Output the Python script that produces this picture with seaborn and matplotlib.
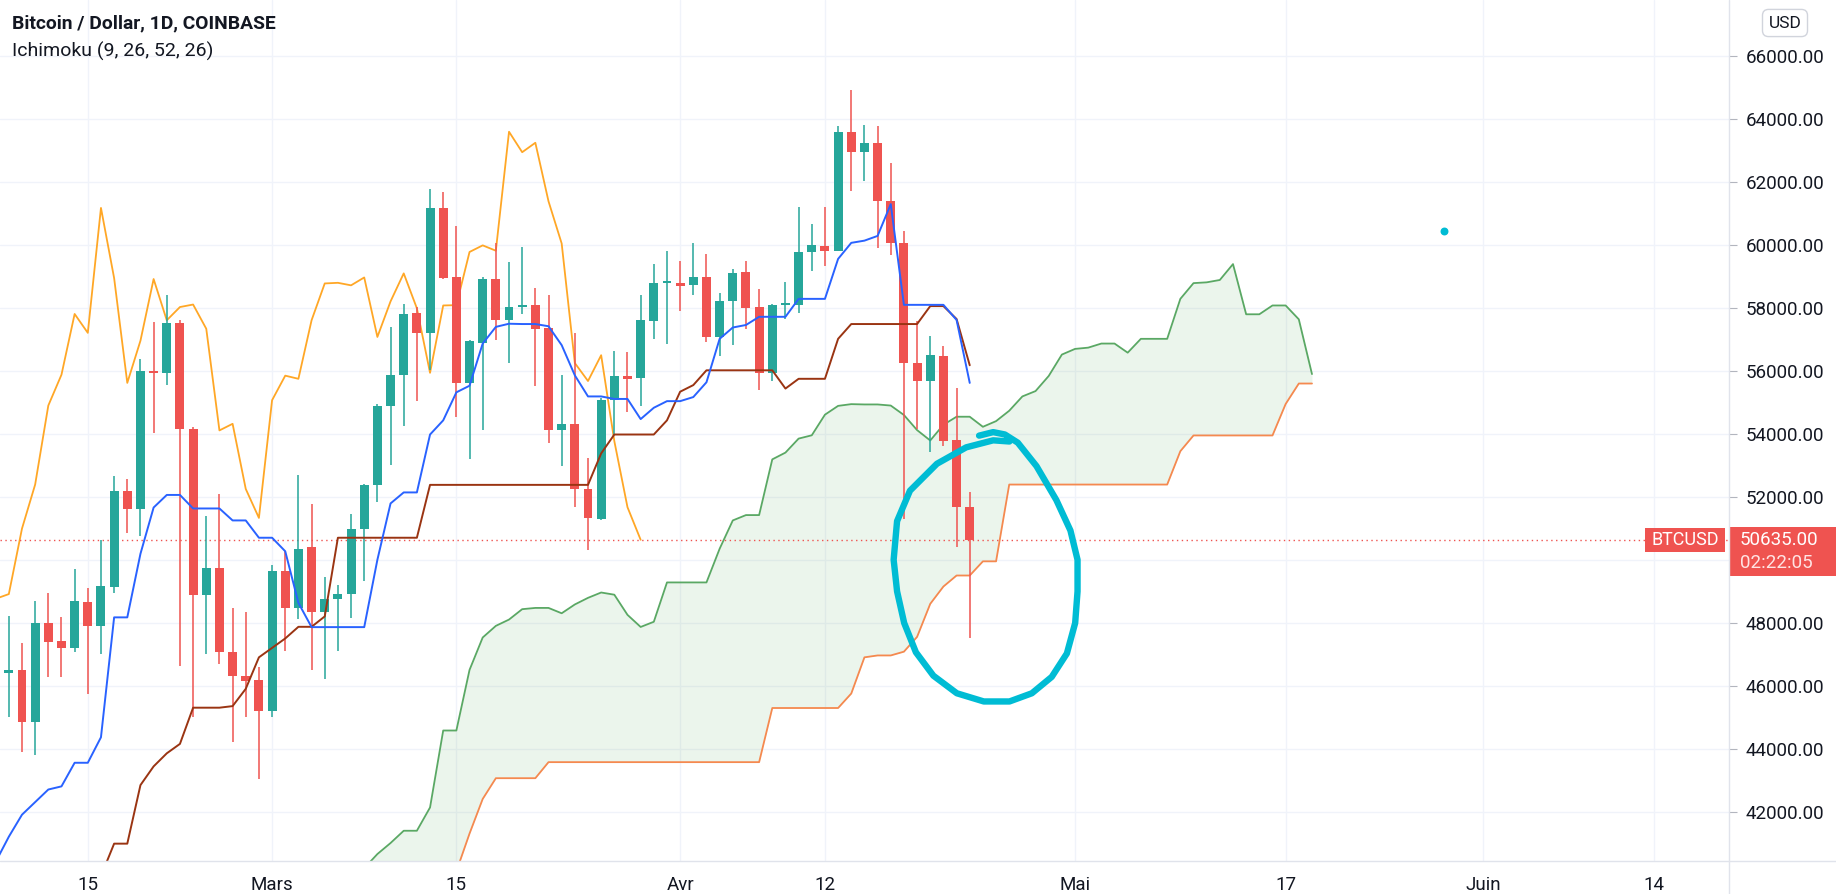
import numpy as np
import pandas as pd
import matplotlib
matplotlib.use('Agg')
import matplotlib.pyplot as plt
import matplotlib.dates as mdates
from matplotlib.lines import Line2D
from matplotlib.patches import Rectangle
import seaborn as sns

# daily candles BTC/USD coinbase, 9 Feb -> 23 Apr 2021
candle_start = '2021-02-09'
opens = [46400, 46500, 44850, 48000, 47420, 47210, 48670, 47910, 49130, 52170,
         51600, 56000, 55940, 57510, 54150, 48870, 49740, 47060, 46320, 46170,
         45200, 49650, 48480, 50390, 48350, 48740, 48910, 50970, 52390, 54900,
         55870, 57850, 57210, 61180, 58980, 55620, 56890, 58920, 57610, 58020,
         58110, 57380, 54110, 54320, 52250, 51290, 55070, 55850, 55790, 57590,
         58780, 58780, 58720, 58970, 57080, 58210, 59140, 58020, 55940, 58080,
         58080, 59780, 59970, 59820, 63580, 62950, 63250, 61390, 60050, 56250,
         55680, 56470, 53790, 51690]
highs = [48200, 47350, 48700, 48930, 48190, 49720, 49100, 50640, 52660, 52570,
         56380, 57570, 58400, 57620, 54210, 51400, 52100, 48470, 48340, 46600,
         49840, 50270, 52680, 51770, 49460, 49200, 51450, 52420, 54940, 57400,
         58120, 58040, 61790, 61690, 60610, 56990, 59000, 60060, 59460, 59930,
         58650, 58400, 55860, 57190, 53240, 55130, 56620, 56590, 58400, 59390,
         59800, 59480, 60050, 59730, 58480, 59230, 59480, 58610, 58140, 58840,
         61220, 60670, 61220, 63790, 64920, 63800, 63770, 62600, 60450, 57590,
         57100, 56800, 55470, 52140]
lows = [45000, 43900, 43800, 46270, 46270, 47080, 45740, 47020, 48930, 50850,
        50740, 54020, 55550, 46620, 45000, 47000, 46680, 44200, 45000, 43050,
        45000, 47100, 48110, 46500, 46200, 47100, 48140, 49310, 51830, 53000,
        54260, 55040, 56020, 58930, 54530, 53190, 54130, 56980, 56250, 57820,
        55530, 53710, 52990, 51670, 50310, 51250, 53980, 54710, 54900, 57000,
        56870, 57910, 58420, 56930, 56470, 56810, 57320, 55410, 55680, 57650,
        57850, 59160, 59350, 59800, 61720, 62020, 59900, 59680, 51290, 54150,
        53420, 53600, 50400, 47520]
closes = [46500, 44850, 48000, 47400, 47210, 48700, 47910, 49170, 52170, 51600,
          56000, 55940, 57510, 54150, 48870, 49740, 47060, 46320, 46150, 45200,
          49650, 48480, 50350, 48350, 48760, 48910, 50990, 52390, 54900, 55880,
          57810, 57210, 61180, 58950, 55620, 56960, 58920, 57610, 58030, 58110,
          57340, 54110, 54320, 52250, 51330, 55070, 55850, 55750, 57610, 58780,
          58800, 58720, 58970, 57080, 58210, 59100, 57990, 55940, 58080, 58090,
          59780, 59990, 59820, 63600, 62950, 63250, 61390, 60050, 56250, 55680,
          56500, 53770, 51670, 50635]

# ichimoku (9, 26, 52, 26)
tenkan_start = '2021-02-08'
tenkan = [40400, 41200, 41900, 42300, 42700, 42800, 43550, 43550, 44360, 48170,
          48170, 50190, 51660, 52060, 52060, 51630, 51630, 51630, 51250, 51250,
          50700, 50700, 50270, 48630, 47860, 47860, 47860, 47860, 47860, 50000,
          51790, 52140, 52140, 53980, 54430, 55320, 55530, 56870, 57400, 57500,
          57490, 57490, 57420, 56820, 55860, 55190, 55190, 55110, 55110, 54470,
          54830, 55040, 55040, 55170, 55640, 57020, 57380, 57460, 57720, 57720,
          57720, 58290, 58290, 58290, 59560, 60070, 60140, 60290, 61300, 58100,
          58100, 58100, 58100, 57620, 55620]
kijun_start = '2021-02-16'
kijun = [39950, 40980, 40980, 42840, 43435, 43850, 44150, 45300, 45300, 45300,
         45350, 45900, 46900, 47200, 47500, 47870, 47870, 48200, 50700, 50700,
         50700, 50700, 50700, 50700, 50700, 52380, 52380, 52380, 52380, 52380,
         52380, 52380, 52380, 52380, 52380, 52380, 52380, 52380, 53380, 53980,
         53980, 53980, 53980, 54430, 55340, 55550, 56020, 56020, 56020, 56020,
         56020, 56020, 55440, 55750, 55750, 55750, 57020, 57490, 57490, 57490,
         57490, 57490, 57490, 58060, 58060, 57650, 56180]
span_start = '2021-03-08'
span_a = [40200, 40650, 41000, 41390, 41390, 42130, 44575, 44575, 46500, 47530,
          47900, 48100, 48430, 48470, 48470, 48300, 48580, 48790, 48960, 48890,
          48250, 47865, 48030, 49280, 49280, 49280, 49280, 50350, 51250, 51420,
          51420, 53190, 53405, 53850, 53955, 54610, 54890, 54945, 54935, 54935,
          54900, 54600, 54120, 53790, 54290, 54545, 54545, 54225, 54405, 54735,
          55190, 55360, 55840, 56520, 56700, 56740, 56870, 56870, 56580, 57020,
          57020, 57020, 58290, 58790, 58815, 58890, 59395, 57800, 57800, 58080,
          58080, 57640, 55900]
span_b = [37600, 37600, 37600, 37600, 38200, 38900, 39300, 40100, 41300, 42400,
          43060, 43060, 43060, 43060, 43570, 43570, 43570, 43570, 43570, 43570,
          43570, 43570, 43570, 43570, 43570, 43570, 43570, 43570, 43570, 43570,
          43570, 45290, 45290, 45290, 45290, 45290, 45290, 45750, 46900, 46960,
          46960, 47080, 47550, 48600, 49150, 49500, 49500, 49950, 49950, 52390,
          52390, 52390, 52390, 52390, 52390, 52390, 52390, 52390, 52390, 52390,
          52390, 52390, 53450, 53950, 53950, 53950, 53950, 53950, 53950, 53950,
          54950, 55600, 55600]
chikou_shift = 25

last_price = 50635.0
countdown = '02:22:05'
dot_date, dot_price = '2021-05-29', 60460

tick_dates = ['2021-02-15', '2021-03-01', '2021-03-15', '2021-04-01', '2021-04-12',
              '2021-05-01', '2021-05-17', '2021-06-01', '2021-06-14']
tick_labels = ['15', 'Mars', '15', 'Avr', '12', 'Mai', '17', 'Juin', '14']
price_ticks = list(range(42000, 66001, 2000))

# hand drawn circle: (days after last candle, price)
circle_days = [0.71, 1.78, 2.67, 3.65, 5.07, 6.58, 7.65, 8.19, 8.19, 8.01, 7.38, 6.23,
               4.72, 3.02, 1.07, -0.98, -2.76, -4.09, -4.98, -5.52, -5.78, -5.52,
               -4.54, -2.49, -0.27, 1.78, 3.02]
circle_prices = [53944, 54056, 53981, 53721, 52977, 51898, 50930, 50000, 48996, 47991,
                 47023, 46279, 45758, 45498, 45498, 45758, 46316, 47061, 47991, 48996,
                 50000, 51228, 52195, 53051, 53572, 53795, 53758]

df = pd.DataFrame(index=pd.date_range('2021-02-08', '2021-06-20', freq='D'))


def put(col, start, values):
    df[col] = np.nan
    idx = pd.date_range(start, periods=len(values), freq='D')
    df.loc[idx, col] = np.array(values, dtype=float)


put('open', candle_start, opens)
put('high', candle_start, highs)
put('low', candle_start, lows)
put('close', candle_start, closes)
put('tenkan', tenkan_start, tenkan)
put('kijun', kijun_start, kijun)
put('span_a', span_start, span_a)
put('span_b', span_start, span_b)
df['chikou'] = df['close'].shift(-chikou_shift)
df.index.name = 'date'
df = df.reset_index()

sns.set_theme(style='white')
plt.rcParams['font.family'] = ['Roboto', 'DejaVu Sans']

fig = plt.figure(figsize=(18.36, 8.94), dpi=100)
ax = fig.add_axes([0, 0.0372, 0.9415, 0.9628])

# cloud
ax.fill_between(df['date'], df['span_a'], df['span_b'], color='#43a047', alpha=0.1,
                lw=0, interpolate=True, zorder=1)
sns.lineplot(data=df, x='date', y='span_a', color='#5aa864', lw=1.3, ax=ax, zorder=2)
sns.lineplot(data=df, x='date', y='span_b', color='#f5894f', lw=1.3, ax=ax, zorder=2)
sns.lineplot(data=df, x='date', y='chikou', color='#ffa726', lw=1.3, ax=ax, zorder=2)
sns.lineplot(data=df, x='date', y='kijun', color='#9a3412', lw=1.4, ax=ax, zorder=5)
sns.lineplot(data=df, x='date', y='tenkan', color='#2962ff', lw=1.4, ax=ax, zorder=5)

# candles
c = df.dropna(subset=['open'])
up = (c['close'] >= c['open']).to_numpy()
cols = np.where(up, '#26a69a', '#ef5350')
ax.vlines(c['date'], c['low'], c['high'], colors=cols, lw=1.1, zorder=3)
body = (c['close'] - c['open']).to_numpy()
body = np.where(np.abs(body) < 70, np.where(up, 70, -70), body)
ax.bar(c['date'], body, bottom=c['open'], width=0.68, color=cols, lw=0, zorder=4)

# last price line
ax.axhline(last_price, color='#ef5350', lw=1, ls=(0, (1, 2.5)), zorder=2)

ax.scatter([pd.Timestamp(dot_date)], [dot_price], s=22, color='#00bcd4', zorder=6)

last_day = pd.Timestamp(candle_start) + pd.Timedelta(days=len(opens) - 1)
circle_x = [last_day + pd.Timedelta(days=d) for d in circle_days]
ax.plot(circle_x, circle_prices, color='#00bcd4', lw=4.6, solid_capstyle='round',
        solid_joinstyle='round', zorder=7)

x0 = mdates.date2num(last_day)
ax.set_xlim(x0 - 73.67, x0 + 57.65)
ax.set_ylim(40437, 67786)

ax.set_xticks(pd.to_datetime(tick_dates))
ax.set_xticklabels(tick_labels)
ax.yaxis.tick_right()
ax.set_yticks(price_ticks)
# the 50000 label sits under the last-price tag
ax.set_yticklabels(['' if v == 50000 else f'{v:.2f}' for v in price_ticks])
ax.tick_params(axis='y', length=6, width=0.8, color='#b2b5be', pad=6,
               labelsize=13.5, labelcolor='#131722')
ax.tick_params(axis='x', length=5, width=0.8, color='#d1d4dc', pad=6,
               labelsize=13.5, labelcolor='#131722')
ax.set_xlabel('')
ax.set_ylabel('')
ax.grid(True, color='#f0f3fa', lw=1)
for s in ax.spines.values():
    s.set_visible(False)

fig.add_artist(Line2D([0, 1], [0.0372, 0.0372], color='#e0e3eb', lw=1))
fig.add_artist(Line2D([0.9415, 0.9415], [0, 1], color='#e0e3eb', lw=1))

# headers
fig.text(12 / 1836, 1 - 23 / 894, 'Bitcoin / Dollar, 1D, COINBASE', fontsize=13.9,
         fontweight='bold', color='#131722', va='center')
fig.text(12 / 1836, 1 - 51 / 894, 'Ichimoku (9, 26, 52, 26)', fontsize=14,
         color='#131722', va='center')
fig.text(1785 / 1836, 1 - 23 / 894, 'USD', fontsize=12.5, color='#131722',
         ha='center', va='center',
         bbox=dict(boxstyle='round,pad=0.35', fc='white', ec='#d1d4dc', lw=1))

# price labels
fig.add_artist(Rectangle((0.9415, 1 - 576 / 894), 1 - 0.9415, 49 / 894,
                         color='#ef5350', lw=0))
fig.text(1740 / 1836, 1 - 540 / 894, f'{last_price:.2f}', fontsize=13.5, color='white',
         va='center')
fig.text(1740 / 1836, 1 - 563 / 894, countdown, fontsize=13.5, color='#ffe3e3',
         va='center')
fig.add_artist(Rectangle((1645 / 1836, 1 - 552 / 894), 80 / 1836, 24 / 894,
                         color='#ef5350', lw=0))
fig.text(1685 / 1836, 1 - 540 / 894, 'BTCUSD', fontsize=13, color='white',
         ha='center', va='center')

fig.savefig('out.png', dpi=100)
plt.close()
